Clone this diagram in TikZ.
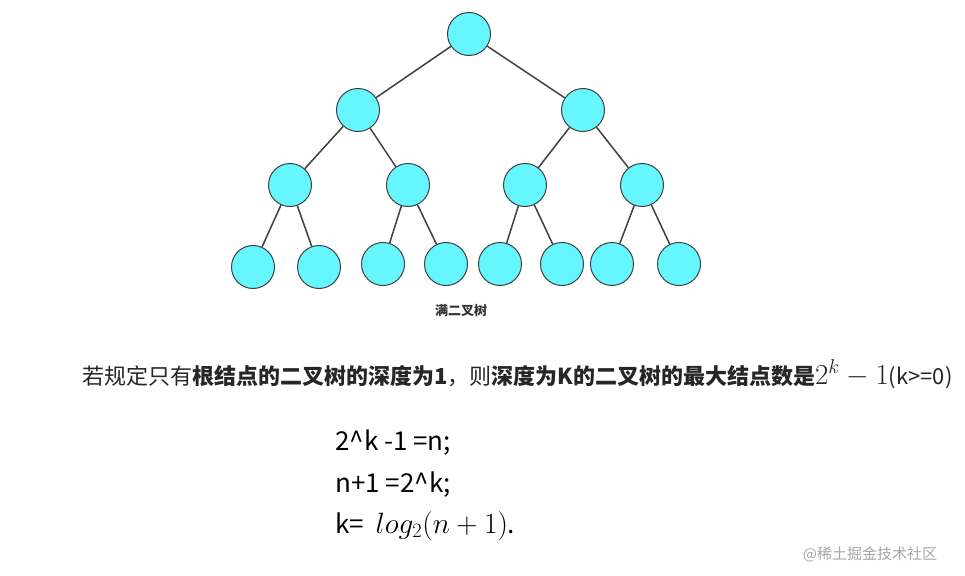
\documentclass[tikz,border=0pt]{standalone}
\usepackage{fontspec}
\setmainfont{Noto Sans CJK SC}
\begin{document}
\begin{tikzpicture}[x=1pt,y=-1pt,
  tn/.style={circle,draw=black!75,line width=1pt,minimum size=43pt,inner sep=0pt},
  ed/.style={draw=black!75,line width=1.5pt}]
\useasboundingbox[fill=white] (0,0) rectangle (965,575);
\definecolor{nodec}{HTML}{66F6FF}
\tikzset{tn/.append style={fill=nodec}}
\node[tn] (r) at (469,34) {};
\node[tn] (a) at (358,110) {};
\node[tn] (b) at (583,110) {};
\node[tn] (a1) at (290,185) {};
\node[tn] (a2) at (408,185) {};
\node[tn] (b1) at (525,185) {};
\node[tn] (b2) at (642,185) {};
\node[tn] (l1) at (253,267) {};
\node[tn] (l2) at (319,267) {};
\node[tn] (l3) at (383,264) {};
\node[tn] (l4) at (446,264) {};
\node[tn] (l5) at (500,264) {};
\node[tn] (l6) at (562,264) {};
\node[tn] (l7) at (612,264) {};
\node[tn] (l8) at (679,264) {};
\foreach \p/\c in {r/a,r/b,a/a1,a/a2,b/b1,b/b2,a1/l1,a1/l2,a2/l3,a2/l4,b1/l5,b1/l6,b2/l7,b2/l8}
  \draw[ed] (\p) -- (\c);
\node[font=\bfseries\fontsize{13}{15}\selectfont,text=black!80] (cap) at (461,311) {满二叉树};
\node[anchor=west,font=\fontsize{22}{26}\selectfont,text=black!85,inner sep=0pt] (t) at (82,374)
  {若规定只有\textbf{根结点的二叉树的深度为1}，则\textbf{深度为K的二叉树的最大结点数是}\scalebox{1.4}{$2^k-1$}(k>=0)};
\node[anchor=west,font=\fontsize{26}{30}\selectfont,inner sep=0pt] (e1) at (335,443) {2\^{}k -1 =n;};
\node[anchor=west,font=\fontsize{26}{30}\selectfont,inner sep=0pt] (e2) at (335,485) {n+1 =2\^{}k;};
\node[anchor=west,font=\fontsize{26}{30}\selectfont,inner sep=0pt] (e3) at (335,526) {k= \ \scalebox{1.18}{$log_2(n+1)$}.};
\node[font=\fontsize{15}{17}\selectfont,text=black!35] (w) at (870,554) {@稀土掘金技术社区};
\end{tikzpicture}
\end{document}
